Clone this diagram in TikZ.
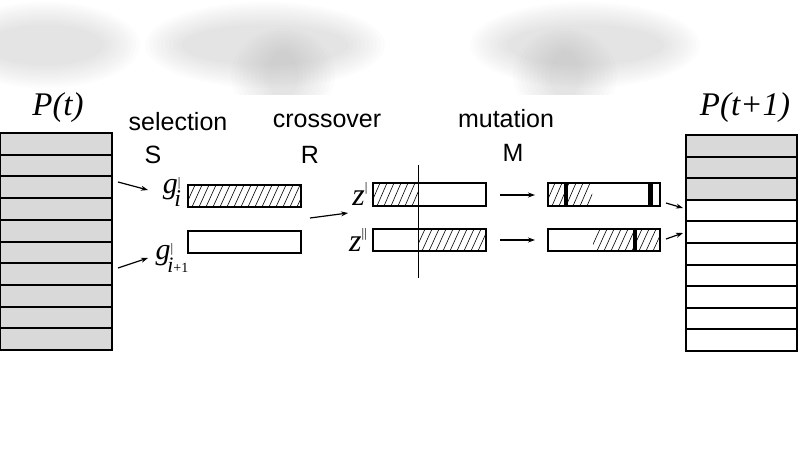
\documentclass[tikz,border=0pt]{standalone}
\usepackage{fontspec}
\setmainfont{Liberation Serif}
\newfontfamily\lsans{Liberation Sans}
\usetikzlibrary{arrows.meta}
\newcommand\myhatch[4]{\begin{scope}\clip (#1,#2) rectangle (#3,#4);
  \foreach \k in {0,...,20}{\draw[line width=0.6pt] ({#1+7*\k-10},#4) -- ({#1+7*\k},#2);}\end{scope}}
\begin{document}
\begin{tikzpicture}[x=1pt,y=-1pt,
  bar/.style={draw,line width=2.6pt},
  cell/.style={draw,line width=2pt},
  arr/.style={-{Stealth[length=7pt,width=5pt]},line width=1.2pt},
  lab/.style={font=\lsans\fontsize{25}{25}\selectfont},
  ttl/.style={font=\itshape\fontsize{33}{33}\selectfont},
  sym/.style={font=\fontsize{30}{30}\selectfont}]
\useasboundingbox (0,0) rectangle (800,450);
% blurred top region
\foreach \cx/\cy/\rx/\ry in {45/45/55/18,265/45/80/18,283/75/12/22,585/45/75/18,565/75/12/22}{
  \foreach \k in {1,...,10}{
    \fill[gray,fill opacity=0.025] (\cx,\cy) ellipse ({\rx+4*\k} and {\ry+2.5*\k});}}
\fill[white] (0,95) rectangle (800,450);
% populations
\foreach \i in {0,...,9}{
  \draw[cell,fill=gray!30] (0,{133+\i*21.7}) rectangle (112,{133+(\i+1)*21.7});}
\foreach \i in {0,...,9}{
  \pgfmathsetmacro\f{\i<3?30:0}
  \draw[cell,fill=gray!\f] (686,{135+\i*21.6}) rectangle (797,{135+(\i+1)*21.6});}
\node[ttl] (pt) at (58,108) {P(t)};
\node[ttl] (pt1) at (745,108) {P(t+1)};
\node[lab] (sel) at (178,122) {selection};
\node[lab] (s) at (153,155) {S};
\node[lab] (cr) at (327,121) {crossover};
\node[lab] (r) at (310,155) {R};
\node[lab] (mu) at (506,119) {mutation};
\node[lab] (m) at (513,153) {M};
% selection
\node[sym] (gi) at (172,192) {\textit{g}\raisebox{0.5ex}{\fontsize{13}{13}\selectfont|}\hspace{-6pt}\raisebox{-1.0ex}{\fontsize{24}{24}\selectfont\textit{i}}};
\node[sym] (gj) at (172,258) {\textit{g}\raisebox{0.5ex}{\fontsize{13}{13}\selectfont|}\hspace{-6pt}\raisebox{-1.0ex}{\fontsize{22}{22}\selectfont\textit{i}\fontsize{14}{14}\selectfont+1}};
\myhatch{188}{185}{301}{207}
\draw[bar] (188,185) rectangle (301,207);
\draw[bar] (188,231) rectangle (301,253);
\coordinate (a1) at (118,182); \coordinate (a2) at (148,190);
\coordinate (b1) at (118,268); \coordinate (b2) at (148,258);
\draw[arr] (a1) -- (a2); \draw[arr] (b1) -- (b2);
\coordinate (c1) at (310,218); \coordinate (c2) at (348,213);
\draw[arr] (c1) -- (c2);
% crossover
\node[font=\itshape\fontsize{32}{32}\selectfont] (z1) at (360,194) {z\raisebox{0.9ex}{\fontsize{13}{13}\selectfont\upshape|}};
\node[font=\itshape\fontsize{32}{32}\selectfont] (z2) at (358,240) {z\raisebox{0.9ex}{\fontsize{13}{13}\selectfont\upshape||}};
\myhatch{373}{183}{418}{206}
\myhatch{418}{229}{486}{251}
\draw[bar] (373,183) rectangle (486,206);
\draw[bar] (373,229) rectangle (486,251);
\draw[line width=1pt] (418,165) -- (418,278);
\coordinate (d1) at (500,195); \coordinate (d2) at (535,195);
\coordinate (e1) at (500,240); \coordinate (e2) at (535,240);
\draw[arr] (d1) -- (d2); \draw[arr] (e1) -- (e2);
% mutation
\myhatch{548}{183}{592}{206}
\myhatch{593}{229}{660}{251}
\draw[bar] (548,183) rectangle (660,206);
\draw[bar] (548,229) rectangle (660,251);
\fill (564,183) rectangle (568,206);
\fill (648,183) rectangle (653,206);
\fill (633,229) rectangle (637,251);
\coordinate (f1) at (666,203); \coordinate (f2) at (683,208);
\coordinate (h1) at (666,239); \coordinate (h2) at (683,233);
\draw[arr] (f1) -- (f2); \draw[arr] (h1) -- (h2);
\end{tikzpicture}
\end{document}
